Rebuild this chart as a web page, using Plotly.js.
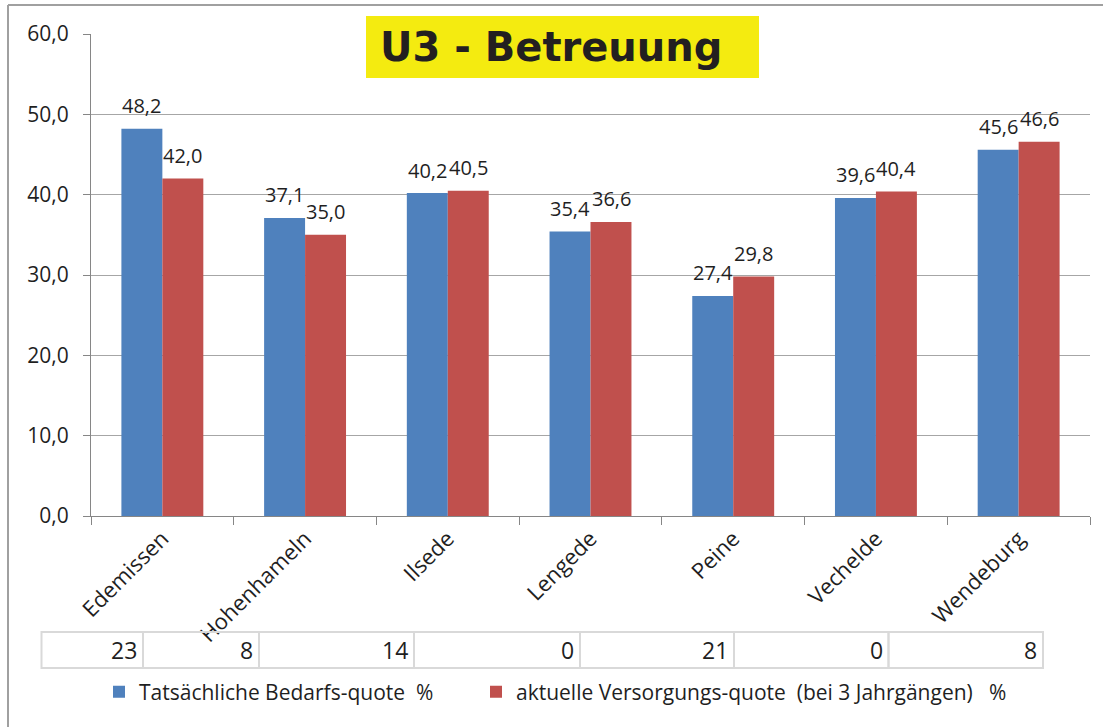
<!DOCTYPE html>
<html>
<head>
<meta charset="utf-8">
<script src="https://cdn.plot.ly/plotly-3.0.1.min.js"></script>
<style>html,body{margin:0;padding:0;background:#fff;}#chart{width:1103px;height:727px;}</style>
</head>
<body>
<div id="chart"></div>
<script>
// ---- data ----
const categories = ["Edemissen", "Hohenhameln", "Ilsede", "Lengede", "Peine", "Vechelde", "Wendeburg"];
const bedarfsQuote = [48.2, 37.1, 40.2, 35.4, 27.4, 39.6, 45.6];
const versorgungsQuote = [42.0, 35.0, 40.5, 36.6, 29.8, 40.4, 46.6];
const tableValues = [23, 8, 14, 0, 21, 0, 8];
const seriesNames = ["Tatsächliche Bedarfs-quote\u00a0\u00a0%", "aktuelle Versorgungs-quote\u00a0\u00a0(bei 3 Jahrgängen)\u00a0\u00a0\u00a0%"];
const chartTitle = "U3 - Betreuung";

// ---- layout helpers (pixel -> paper) ----
const W = 1103, H = 727;
const M = {l: 91, r: 13, t: 34, b: 211};
const PW = W - M.l - M.r, PH = H - M.t - M.b;
const px = x => (x - M.l) / PW;
const py = y => (H - M.b - y) / PH;

const FONT = "'Open Sans', 'Noto Sans', sans-serif";
const TXT = "#1f1f1f";
const GRID = "#a6a6a6";

const traces = [
  {type: "bar", name: seriesNames[0], x: categories, y: bedarfsQuote, legend: "legend", showlegend: true,
   marker: {color: "#4f81bd"}, hoverinfo: "skip"},
  {type: "bar", name: seriesNames[1], x: categories, y: versorgungsQuote, legend: "legend2", showlegend: true,
   marker: {color: "#c0504d"}, hoverinfo: "skip"}
];

const annotations = [];
const fmt = v => v.toFixed(1).replace(".", ",");
const barHalf = 20.5;
categories.forEach((c, i) => {
  annotations.push({x: c, y: bedarfsQuote[i], xref: "x", yref: "y", text: fmt(bedarfsQuote[i]),
    showarrow: false, xshift: -barHalf, yshift: 23, yanchor: "middle", font: {family: FONT, size: 20, color: TXT}});
  annotations.push({x: c, y: versorgungsQuote[i], xref: "x", yref: "y", text: fmt(versorgungsQuote[i]),
    showarrow: false, xshift: barHalf, yshift: 23, yanchor: "middle", font: {family: FONT, size: 20, color: TXT}});
});

// data table under the axis
const cellEdges = [41.5, 143, 259, 414, 580, 734, 888.5, 1043];
const tableTop = 632, tableBottom = 668;
const shapes = [];
tableValues.forEach((v, i) => {
  shapes.push({type: "rect", xref: "paper", yref: "paper",
    x0: px(cellEdges[i]), x1: px(cellEdges[i + 1]), y0: py(tableBottom), y1: py(tableTop),
    line: {color: "#d9d9d9", width: 2}, fillcolor: "rgba(0,0,0,0)"});
  annotations.push({xref: "paper", yref: "paper", x: px(cellEdges[i + 1] - 4), y: py((tableTop + tableBottom) / 2),
    xanchor: "right", yanchor: "middle", showarrow: false, text: String(v),
    font: {family: FONT, size: 23, color: TXT}});
});

// outer frame (top and left edges)
shapes.push({type: "line", xref: "paper", yref: "paper", x0: px(8), x1: px(1103), y0: py(5), y1: py(5),
  line: {color: "#a0a0a0", width: 2}});
shapes.push({type: "line", xref: "paper", yref: "paper", x0: px(8), x1: px(8), y0: py(5), y1: py(727),
  line: {color: "#a0a0a0", width: 2}});
// yellow title box
shapes.push({type: "rect", xref: "paper", yref: "paper", layer: "above",
  x0: px(366), x1: px(759), y0: py(78), y1: py(16), fillcolor: "#f4eb10", line: {width: 0}});

const legendFont = {family: FONT, size: 21, color: TXT};
const layout = {
  width: W, height: H,
  margin: M,
  showlegend: true,
  paper_bgcolor: "#fff", plot_bgcolor: "#fff",
  separators: ", ",
  barmode: "group", bargap: 0.426, bargroupgap: 0,
  font: {family: FONT, color: TXT},
  title: {text: "<b>" + chartTitle + "</b>", x: 380 / W, xanchor: "left", xref: "container",
    y: 1 - 47 / H, yanchor: "middle", yref: "container",
    font: {family: "'DejaVu Sans', Verdana, sans-serif", size: 40, color: "#231f20"}},
  xaxis: {type: "category", showline: true, linecolor: "#868686", linewidth: 1,
    ticks: "outside", tickson: "boundaries", ticklen: 8, tickcolor: "#868686",
    tickangle: -45, tickfont: {family: FONT, size: 22, color: TXT}, showgrid: false, zeroline: false,
    fixedrange: true},
  yaxis: {range: [0, 60], dtick: 10, tick0: 0, tickformat: ".1f", showline: true, linecolor: "#868686",
    ticks: "outside", ticklen: 7, tickcolor: "#868686", gridcolor: GRID, gridwidth: 1,
    zeroline: false, tickfont: {family: FONT, size: 21, color: TXT}, ticklabelstandoff: 10, fixedrange: true},
  legend: {orientation: "h", x: px(99), xanchor: "left", y: py(692), yanchor: "middle",
    font: legendFont, bgcolor: "rgba(0,0,0,0)"},
  legend2: {orientation: "h", x: px(476), xanchor: "left", y: py(692), yanchor: "middle",
    font: legendFont, bgcolor: "rgba(0,0,0,0)"},
  shapes: shapes,
  annotations: annotations
};

Plotly.newPlot("chart", traces, layout, {displayModeBar: false, staticPlot: true});
</script>
</body>
</html>
